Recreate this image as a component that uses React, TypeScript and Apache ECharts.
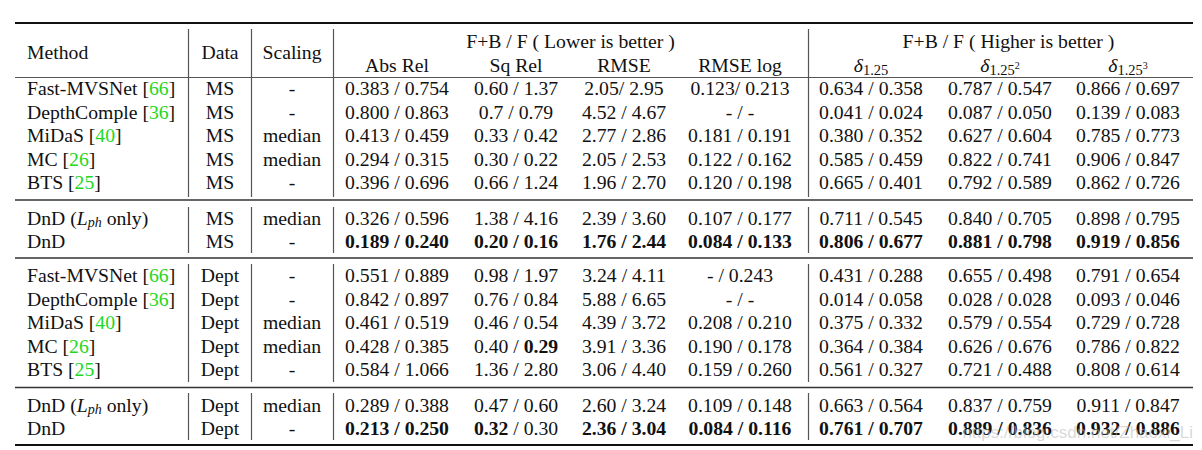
import React, { useEffect, useRef } from "react";
import * as echarts from "echarts";

// ---------- data ----------
const methods = ["Fast-MVSNet", "DepthComple", "MiDaS", "MC", "BTS", "DnD", "DnD", "Fast-MVSNet", "DepthComple", "MiDaS", "MC", "BTS", "DnD", "DnD"];
const citations = ["66", "36", "40", "26", "25", "", "", "66", "36", "40", "26", "25", "", ""];
const photometricOnly = [false, false, false, false, false, true, false, false, false, false, false, false, true, false];
const trainData = ["MS", "MS", "MS", "MS", "MS", "MS", "MS", "Dept", "Dept", "Dept", "Dept", "Dept", "Dept", "Dept"];
const scaling = ["-", "-", "median", "median", "-", "median", "-", "-", "-", "median", "median", "-", "median", "-"];
const absRel = ["0.383 / 0.754", "0.800 / 0.863", "0.413 / 0.459", "0.294 / 0.315", "0.396 / 0.696", "0.326 / 0.596", "0.189 / 0.240", "0.551 / 0.889", "0.842 / 0.897", "0.461 / 0.519", "0.428 / 0.385", "0.584 / 1.066", "0.289 / 0.388", "0.213 / 0.250"];
const sqRel = ["0.60 / 1.37", "0.7 / 0.79", "0.33 / 0.42", "0.30 / 0.22", "0.66 / 1.24", "1.38 / 4.16", "0.20 / 0.16", "0.98 / 1.97", "0.76 / 0.84", "0.46 / 0.54", "0.40 / 0.29", "1.36 / 2.80", "0.47 / 0.60", "0.32 / 0.30"];
const rmse = ["2.05/ 2.95", "4.52 / 4.67", "2.77 / 2.86", "2.05 / 2.53", "1.96 / 2.70", "2.39 / 3.60", "1.76 / 2.44", "3.24 / 4.11", "5.88 / 6.65", "4.39 / 3.72", "3.91 / 3.36", "3.06 / 4.40", "2.60 / 3.24", "2.36 / 3.04"];
const rmseLog = ["0.123/ 0.213", "- / -", "0.181 / 0.191", "0.122 / 0.162", "0.120 / 0.198", "0.107 / 0.177", "0.084 / 0.133", "- / 0.243", "- / -", "0.208 / 0.210", "0.190 / 0.178", "0.159 / 0.260", "0.109 / 0.148", "0.084 / 0.116"];
const delta1 = ["0.634 / 0.358", "0.041 / 0.024", "0.380 / 0.352", "0.585 / 0.459", "0.665 / 0.401", "0.711 / 0.545", "0.806 / 0.677", "0.431 / 0.288", "0.014 / 0.058", "0.375 / 0.332", "0.364 / 0.384", "0.561 / 0.327", "0.663 / 0.564", "0.761 / 0.707"];
const delta2 = ["0.787 / 0.547", "0.087 / 0.050", "0.627 / 0.604", "0.822 / 0.741", "0.792 / 0.589", "0.840 / 0.705", "0.881 / 0.798", "0.655 / 0.498", "0.028 / 0.028", "0.579 / 0.554", "0.626 / 0.676", "0.721 / 0.488", "0.837 / 0.759", "0.889 / 0.836"];
const delta3 = ["0.866 / 0.697", "0.139 / 0.083", "0.785 / 0.773", "0.906 / 0.847", "0.862 / 0.726", "0.898 / 0.795", "0.919 / 0.856", "0.791 / 0.654", "0.093 / 0.046", "0.729 / 0.728", "0.786 / 0.822", "0.808 / 0.614", "0.911 / 0.847", "0.932 / 0.886"];
const bestRows = [6, 13];
// partial bold: row, metric column, which part (0 = before "/", 1 = after)
const partialBold = [
  { row: 10, col: 1, part: 1 },
  { row: 13, col: 1, part: 0 },
];
const blockSizes = [5, 2, 5, 2];
const headMain = ["Method", "Data", "Scaling"];
const groupTitles = ["F+B / F ( Lower is better )", "F+B / F ( Higher is better )"];
const metricHeads = ["Abs Rel", "Sq Rel", "RMSE", "RMSE log"];
const deltaSub = ["1.25", "1.25", "1.25"];
const deltaSup = ["", "2", "3"];
const watermark = "https://blog.csdn.net/Zhaoxi_Li";

// ---------- layout ----------
const FONT = '"Liberation Serif", "Times New Roman", serif';
const FS = 19.7;
const TXT = "#111";
const GREEN = "#22d822";
const LEFT = 15;
const RIGHT = 1193;
const methodX = 27;
const dataX = 220;
const scalingX = 292;
const metricX = [397, 516, 624, 740, 871, 1000, 1128];
const vLinesX = [188, 251, 333, 808];
const blockStarts = [88, 217.5, 275, 404.5];
const PITCH = 23.5;
const C = 0.34;

let mctx: CanvasRenderingContext2D | null = null;
function measure(t: string, size: number, italic = false, bold = false) {
  if (!mctx) mctx = document.createElement("canvas").getContext("2d");
  mctx!.font = `${italic ? "italic " : ""}${bold ? "bold " : ""}${size}px ${FONT}`;
  return mctx!.measureText(t).width;
}

type Piece = { t: string; size: number; italic?: boolean; dy?: number };
function pushPieces(els: any[], list: Piece[], x: number, y: number, align: "left" | "center") {
  const widths = list.map((p) => measure(p.t, p.size, p.italic));
  const total = widths.reduce((a, b) => a + b, 0);
  let cx = align === "center" ? x - total / 2 : x;
  const baseline = y + C * FS;
  list.forEach((p, i) => {
    els.push({
      type: "text",
      x: cx,
      y: baseline + (p.dy || 0) - C * p.size,
      style: {
        text: p.t,
        fontFamily: FONT,
        fontSize: p.size,
        fontStyle: p.italic ? "italic" : "normal",
        fill: TXT,
        align: "left",
        verticalAlign: "middle",
      },
    });
    cx += widths[i];
  });
}

function text(x: number, y: number, t: string, align = "center", extra: any = {}) {
  return {
    type: "text",
    x,
    y,
    style: { text: t, fontFamily: FONT, fontSize: FS, fill: TXT, align, verticalAlign: "middle", ...extra },
  };
}

function line(x1: number, y1: number, x2: number, y2: number, w: number, color: string) {
  return { type: "line", shape: { x1, y1, x2, y2 }, style: { stroke: color, lineWidth: w } };
}

function buildElements() {
  const els: any[] = [];
  const rich = {
    n: { fontFamily: FONT, fontSize: FS, fill: TXT },
    b: { fontFamily: FONT, fontSize: FS, fill: TXT, fontWeight: "bold" },
    g: { fontFamily: FONT, fontSize: FS, fill: GREEN },
  };

  // rules
  els.push(line(LEFT, 23, RIGHT, 23, 2, "#111"));
  els.push(line(LEFT, 77.5, RIGHT, 77.5, 1, "#555"));
  els.push(line(LEFT, 200, RIGHT, 200, 1.3, "#333"));
  els.push(line(LEFT, 258, RIGHT, 258, 1.3, "#333"));
  els.push(line(LEFT, 387.5, RIGHT, 387.5, 1.3, "#333"));
  els.push(line(LEFT, 445, RIGHT, 445, 2, "#111"));

  // vertical lines
  const segs = [
    [29, 197],
    [207, 253],
    [264, 382],
    [393, 440],
  ];
  vLinesX.forEach((x) => segs.forEach(([a, b]) => els.push(line(x + 0.5, a, x + 0.5, b, 1.2, "#555"))));

  // header
  els.push(text(methodX, 52, headMain[0], "left"));
  els.push(text(dataX, 52, headMain[1]));
  els.push(text(scalingX, 52, headMain[2]));
  els.push(text((vLinesX[2] + vLinesX[3]) / 2, 40.5, groupTitles[0]));
  els.push(text((vLinesX[3] + RIGHT) / 2 + 8, 40.5, groupTitles[1]));
  metricHeads.forEach((h, i) => els.push(text(metricX[i], 65, h)));
  deltaSub.forEach((s, i) => {
    const list: Piece[] = [
      { t: "δ", size: FS, italic: true },
      { t: s, size: 14.5, dy: 3.5 },
    ];
    if (deltaSup[i]) list.push({ t: deltaSup[i], size: 10, dy: -2.5 });
    pushPieces(els, list, metricX[4 + i], 65, "center");
  });

  // body rows
  const rowY: number[] = [];
  blockSizes.forEach((n, b) => {
    for (let k = 0; k < n; k++) rowY.push(blockStarts[b] + k * PITCH);
  });
  const cols = [absRel, sqRel, rmse, rmseLog, delta1, delta2, delta3];
  methods.forEach((m, r) => {
    const y = rowY[r];
    if (photometricOnly[r]) {
      pushPieces(
        els,
        [
          { t: m + " (", size: FS },
          { t: "L", size: FS, italic: true },
          { t: "ph", size: 14, italic: true, dy: 3.5 },
          { t: " only)", size: FS },
        ],
        methodX,
        y,
        "left"
      );
    } else if (citations[r]) {
      els.push({
        type: "text",
        x: methodX,
        y,
        style: {
          text: `{n|${m} [}{g|${citations[r]}}{n|]}`,
          rich,
          fontFamily: FONT,
          fontSize: FS,
          align: "left",
          verticalAlign: "middle",
        },
      });
    } else {
      els.push(text(methodX, y, m, "left"));
    }
    els.push(text(dataX, y, trainData[r]));
    els.push(text(scalingX, y, scaling[r]));
    cols.forEach((col, c) => {
      const v = col[r];
      const pb = partialBold.find((p) => p.row === r && p.col === c);
      if (pb) {
        const idx = v.indexOf("/");
        const a = v.slice(0, idx);
        const bpart = v.slice(idx);
        const t = pb.part === 0 ? `{b|${a}}{n|${bpart}}` : `{n|${a}}{b|${bpart.slice(0, 2)}}{b|${bpart.slice(2)}}`;
        const t2 = pb.part === 0 ? t : `{n|${v.slice(0, idx + 2)}}{b|${v.slice(idx + 2)}}`;
        els.push({
          type: "text",
          x: metricX[c],
          y,
          style: { text: t2, rich, fontFamily: FONT, fontSize: FS, align: "center", verticalAlign: "middle" },
        });
      } else {
        const bold = bestRows.includes(r);
        els.push(text(metricX[c], y, v, "center", bold ? { fontWeight: "bold" } : {}));
      }
    });
  });

  // watermark
  els.push({
    type: "text",
    x: 1193,
    y: 432,
    style: {
      text: watermark,
      fontFamily: '"Liberation Sans", Arial, sans-serif',
      fontSize: 17,
      fill: "rgba(185,185,185,0.55)",
      align: "right",
      verticalAlign: "middle",
    },
  });
  return els;
}

export default function App() {
  const ref = useRef<HTMLDivElement>(null);
  useEffect(() => {
    if (!ref.current) return;
    const chart = echarts.init(ref.current, undefined, { renderer: "svg" });
    chart.setOption({
      animation: false,
      backgroundColor: "#ffffff",
      graphic: { elements: buildElements() },
    });
    return () => chart.dispose();
  }, []);
  return (
    <div
      ref={ref}
      style={{ position: "fixed", left: 0, top: 0, width: 1202, height: 450, background: "#fff" }}
    />
  );
}
